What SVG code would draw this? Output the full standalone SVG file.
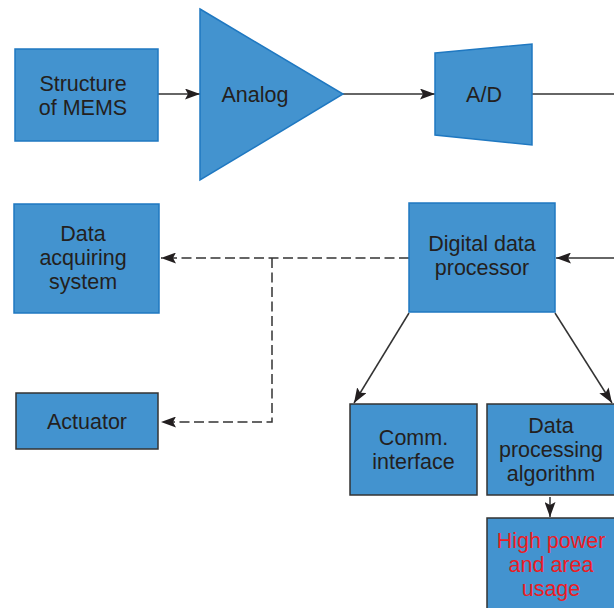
<svg xmlns="http://www.w3.org/2000/svg" width="614" height="608" viewBox="0 0 614 608">
  <style>
    .blk { fill: #4393cf; stroke: #1f78c1; stroke-width: 1.5; }
    .blk-dark { fill: #4393cf; stroke: #333333; stroke-width: 1.5; }
    .lbl { font-family: "Liberation Sans", Arial, sans-serif; font-size: 21.5px; fill: #231f20; text-anchor: middle; }
    .warn { fill: #ec1c24; }
    .wire { fill: none; stroke: #333333; stroke-width: 1.5; }
    .dash { stroke-dasharray: 10 4.5; }
  </style>
  <defs>
    <marker id="head" viewBox="0 0 15 11" refX="15" refY="5.5" markerWidth="15" markerHeight="11" markerUnits="userSpaceOnUse" orient="auto">
      <path d="M0,0 L15,5.5 L0,11 L3,5.5 Z" fill="#231f20"/>
    </marker>
  </defs>

  <!-- connectors -->
  <g id="connectors">
    <line class="wire" x1="158" y1="94" x2="200" y2="94" marker-end="url(#head)"/>
    <line class="wire" x1="343" y1="94" x2="435" y2="94" marker-end="url(#head)"/>
    <line class="wire" x1="532" y1="94" x2="614" y2="94"/>
    <line class="wire" x1="614" y1="258" x2="556" y2="258" marker-end="url(#head)"/>
    <line class="wire dash" x1="409" y1="258" x2="161" y2="258" marker-end="url(#head)"/>
    <polyline class="wire dash" points="272,258 272,422 161,422" marker-end="url(#head)"/>
    <line class="wire" x1="409" y1="313" x2="354" y2="403" marker-end="url(#head)"/>
    <line class="wire" x1="555" y1="313" x2="612" y2="403" marker-end="url(#head)"/>
    <line class="wire" x1="550" y1="497" x2="550" y2="517" marker-end="url(#head)"/>
  </g>

  <!-- sensing front end -->
  <g id="mems">
    <rect class="blk" x="15" y="49" width="143" height="92"/>
    <text class="lbl" x="83" y="91">Structure</text>
    <text class="lbl" x="83" y="115">of MEMS</text>
  </g>
  <g id="analog">
    <polygon class="blk" points="200,9 343,94 200,180"/>
    <text class="lbl" x="255" y="102">Analog</text>
  </g>
  <g id="adc">
    <polygon class="blk" points="435,53 532,44 532,145 435,135"/>
    <text class="lbl" x="484" y="102">A/D</text>
  </g>

  <!-- processing -->
  <g id="dsp">
    <rect class="blk" x="409" y="203" width="146" height="109"/>
    <text class="lbl" x="482" y="251">Digital data</text>
    <text class="lbl" x="482" y="275">processor</text>
  </g>
  <g id="daq">
    <rect class="blk" x="14" y="204" width="145" height="109"/>
    <text class="lbl" x="83" y="241">Data</text>
    <text class="lbl" x="83" y="265">acquiring</text>
    <text class="lbl" x="83" y="289">system</text>
  </g>
  <g id="actuator">
    <rect class="blk-dark" x="16" y="393" width="142" height="56"/>
    <text class="lbl" x="87" y="429">Actuator</text>
  </g>
  <g id="comm">
    <rect class="blk-dark" x="350" y="404" width="127" height="91"/>
    <text class="lbl" x="413.5" y="445">Comm.</text>
    <text class="lbl" x="413.5" y="469">interface</text>
  </g>
  <g id="algorithm">
    <rect class="blk-dark" x="487" y="404" width="130" height="91"/>
    <text class="lbl" x="551" y="433">Data</text>
    <text class="lbl" x="551" y="457">processing</text>
    <text class="lbl" x="551" y="481">algorithm</text>
  </g>
  <g id="cost">
    <rect class="blk-dark" x="487" y="518" width="130" height="95"/>
    <text class="lbl warn" x="551" y="548">High power</text>
    <text class="lbl warn" x="551" y="572">and area</text>
    <text class="lbl warn" x="551" y="596">usage</text>
  </g>
</svg>
